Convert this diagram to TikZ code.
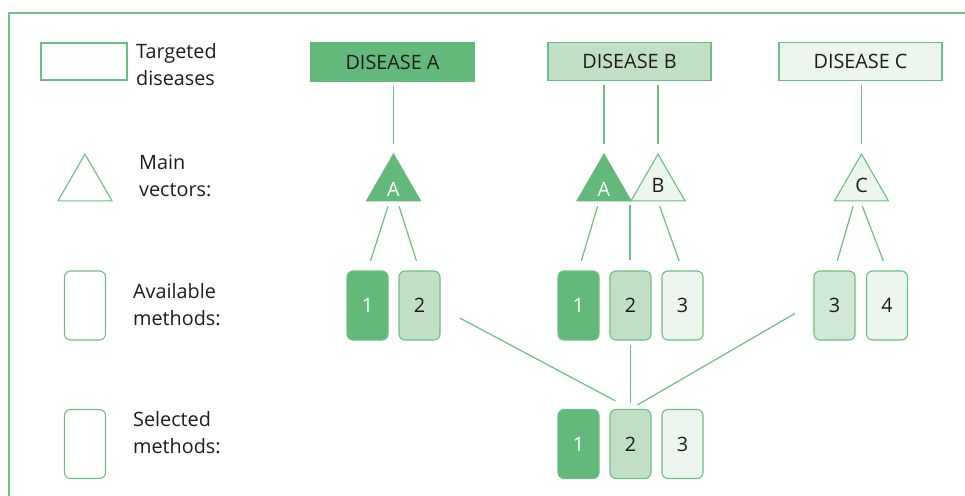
\documentclass[tikz,border=0pt]{standalone}
\usepackage{fontspec}
\setmainfont{Open Sans}
\usetikzlibrary{shapes.geometric,calc}
\definecolor{gline}{HTML}{6ABF82}
\definecolor{gframe}{HTML}{6DC18B}
\definecolor{gdark}{HTML}{62B97A}
\definecolor{gmid}{HTML}{C1DFC5}
\definecolor{gmidb}{HTML}{D0E8D5}
\definecolor{glight}{HTML}{ECF6EE}
\definecolor{txt}{HTML}{1E1B1C}
\begin{document}
\begin{tikzpicture}[x=1pt,y=-1pt,
  font=\fontsize{19.8}{27}\selectfont, text=txt,
  link/.style={draw=gline, line width=1.2pt},
  frame/.style={draw=gframe, line width=2.5pt, line join=miter},
  disbox/.style={draw=gline, line width=1.1pt, minimum width=163pt, minimum height=38pt, inner sep=0pt},
  meth/.style={draw=gline, line width=1.1pt, rounded corners=6pt, minimum width=41pt, minimum height=69pt, inner sep=0pt},
  tri/.style={draw=gline, line width=1.1pt, regular polygon, regular polygon sides=3, minimum size=62.4pt, inner sep=0pt},
  legtext/.style={anchor=base west, align=left, inner sep=0pt},
  dark/.style={fill=gdark, text=white},
  mid/.style={fill=gmid},
  midb/.style={fill=gmidb},
  light/.style={fill=glight}]
\useasboundingbox (0,0) rectangle (965,495);
\clip (0,0) rectangle (965,495);
\draw[frame] (9,497) -- (9,13) -- (967,13);

% legend
\node[draw=gline, line width=1.1pt, fill=white, minimum width=86pt, minimum height=37pt, inner sep=0pt] (lgbox) at (84,61.5) {};
\node[legtext] (lt1) at (136,85) {Targeted\\diseases};
\node[tri, fill=white] (lgtri) at (85,185.3) {};
\node[legtext] (lt2) at (139,196) {Main\\vectors:};
\node[meth, fill=white] (lgav) at (85,305.5) {};
\node[legtext] (lt3) at (133,325) {Available\\methods:};
\node[meth, fill=white] (lgsel) at (85,444) {};
\node[legtext] (lt4) at (133,453) {Selected\\methods:};

% diseases
\node[disbox, fill=gdark, draw=gdark] (disA) at (392.5,62) {DISEASE A};
\node[disbox, mid] (disB) at (629.5,61.5) {DISEASE B};
\node[disbox, light] (disC) at (860.5,61.5) {DISEASE C};

% vectors
\node[tri, fill=gdark, draw=gdark] (triA) at (393.5,185.3) {};
\node[text=white] (lA) at (393.5,189) {A};
\node[tri, fill=gdark, draw=gdark] (triBA) at (604,185.3) {};
\node[text=white] (lBA) at (604,189) {A};
\node[tri, light] (triBB) at (658,185.3) {B};
\node[tri, light] (triC) at (861.5,185.3) {C};

% available methods
\node[meth, dark] (A1) at (367.5,305.5) {1};
\node[meth, mid] (A2) at (419.5,305.5) {2};
\node[meth, dark] (B1) at (578.5,305.5) {1};
\node[meth, mid] (B2) at (630.5,305.5) {2};
\node[meth, light] (B3) at (682.5,305.5) {3};
\node[meth, midb] (C3) at (834.5,305.5) {3};
\node[meth, light] (C4) at (887,305.5) {4};

% selected methods
\node[meth, dark] (S1) at (578.5,444) {1};
\node[meth, mid] (S2) at (630.5,444) {2};
\node[meth, light] (S3) at (682.5,444) {3};

% disease -> vector
\draw[link, shorten <=4pt, shorten >=9pt] (disA.south -| triA.north) -- (triA.north);
\draw[link, shorten <=4pt, shorten >=9pt] (disB.south -| triBA.north) -- (triBA.north);
\draw[link, shorten <=4pt, shorten >=9pt] (disB.south -| triBB.north) -- (triBB.north);
\draw[link, shorten <=4pt, shorten >=9pt] (disC.south -| triC.north) -- (triC.north);

% vector -> methods
\draw[link, shorten <=5pt, shorten >=10pt] ([xshift=-4pt]triA.south) -- (A1.north);
\draw[link, shorten <=5pt, shorten >=10pt] ([xshift=4pt]triA.south) -- (A2.north);
\draw[link, shorten <=5pt, shorten >=10pt] ([xshift=-5pt]triBA.south) -- (B1.north);
\draw[link, shorten <=4pt, shorten >=10pt] (triBB.corner 2) -- (triBB.corner 2 |- B2.north);
\draw[link, shorten <=5pt, shorten >=10pt] (triBB.south) -- (B3.north);
\draw[link, shorten <=5pt, shorten >=10pt] ([xshift=-7pt]triC.south) -- (C3.north);
\draw[link, shorten <=5pt, shorten >=10pt] ([xshift=-1pt]triC.south) -- (C4.north);

% methods -> selected
\draw[link, shorten <=46pt, shorten >=17pt] ($(A2.center)+(0,-9)$) -- (S2.north);
\draw[link, shorten <=4pt, shorten >=6pt] (B2.south) -- (S2.north);
\draw[link, shorten <=46pt, shorten >=8pt] ($(C3.center)+(0,-15)$) -- (S2.north);
\end{tikzpicture}
\end{document}
